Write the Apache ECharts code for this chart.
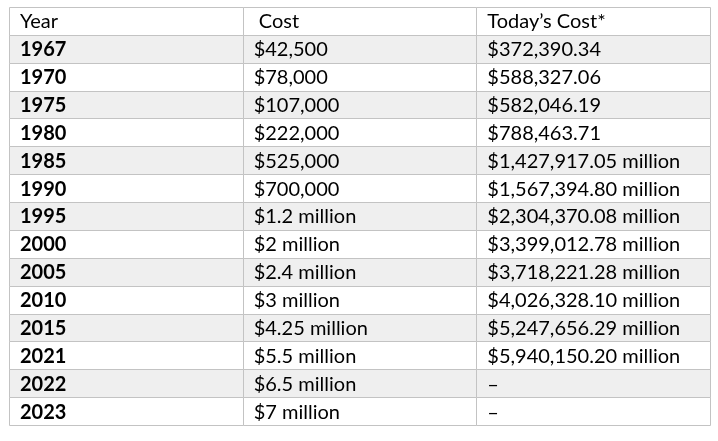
<!DOCTYPE html>
<html>
<head>
<meta charset="utf-8">
<script src="https://cdn.jsdelivr.net/npm/echarts@6/dist/echarts.min.js"></script>
<style>html,body{margin:0;padding:0;background:#fff;}#c{width:718px;height:441px;}</style>
</head>
<body>
<div id="c"></div>
<script>
var headers = ['Year', ' Cost', 'Today\u2019s Cost*'];
var years = ['1967','1970','1975','1980','1985','1990','1995','2000','2005','2010','2015','2021','2022','2023'];
var costs = ['$42,500','$78,000','$107,000','$222,000','$525,000','$700,000','$1.2 million','$2 million','$2.4 million','$3 million','$4.25 million','$5.5 million','$6.5 million','$7 million'];
var todayCosts = ['$372,390.34','$588,327.06','$582,046.19','$788,463.71','$1,427,917.05 million','$1,567,394.80 million','$2,304,370.08 million','$3,399,012.78 million','$3,718,221.28 million','$4,026,328.10 million','$5,247,656.29 million','$5,940,150.20 million','\u2013','\u2013'];

var rowLabels = ['header'].concat(years);
var colLabels = ['c0','c1','c2'];

var cells = [];
for (var r = 0; r < rowLabels.length; r++) {
  var texts = r === 0 ? headers : [years[r-1], costs[r-1], todayCosts[r-1]];
  for (var c = 0; c < 3; c++) {
    cells.push({value: [c, r], text: texts[c], header: r === 0, shaded: r > 0 && (r % 2 === 1)});
  }
}

var chart = echarts.init(document.getElementById('c'), null, {renderer: 'canvas'});
chart.setOption({
  animation: false,
  backgroundColor: '#ffffff',
  grid: {left: 9, right: 8, top: 7, bottom: 16},
  xAxis: {type: 'category', data: colLabels, show: false},
  yAxis: {type: 'category', data: rowLabels, inverse: true, show: false},
  series: [{
    type: 'custom',
    data: cells,
    renderItem: function (params, api) {
      var d = cells[params.dataIndex];
      var c = api.value(0), r = api.value(1);
      var center = api.coord([c, r]);
      var size = api.size([1, 1]);
      var x = center[0] - size[0] / 2, y = center[1] - size[1] / 2;
      var bold = (c === 0 && !d.header);
      var pad = 11;
      return {
        type: 'group',
        children: [{
          type: 'rect',
          shape: {x: Math.round(x) + 0.5, y: Math.round(y) + 0.5, width: Math.round(x + size[0]) - Math.round(x), height: Math.round(y + size[1]) - Math.round(y)},
          style: {fill: d.shaded ? '#efefef' : '#ffffff', stroke: '#c3c3c3', lineWidth: 1}
        }, {
          type: 'text',
          style: {
            x: x + pad, y: center[1] + 1,
            text: d.text,
            fill: '#000000',
            font: (bold ? 'bold ' : '') + '20px Lato',
            textAlign: 'left', textVerticalAlign: 'middle'
          }
        }]
      };
    }
  }]
});
</script>
</body>
</html>
